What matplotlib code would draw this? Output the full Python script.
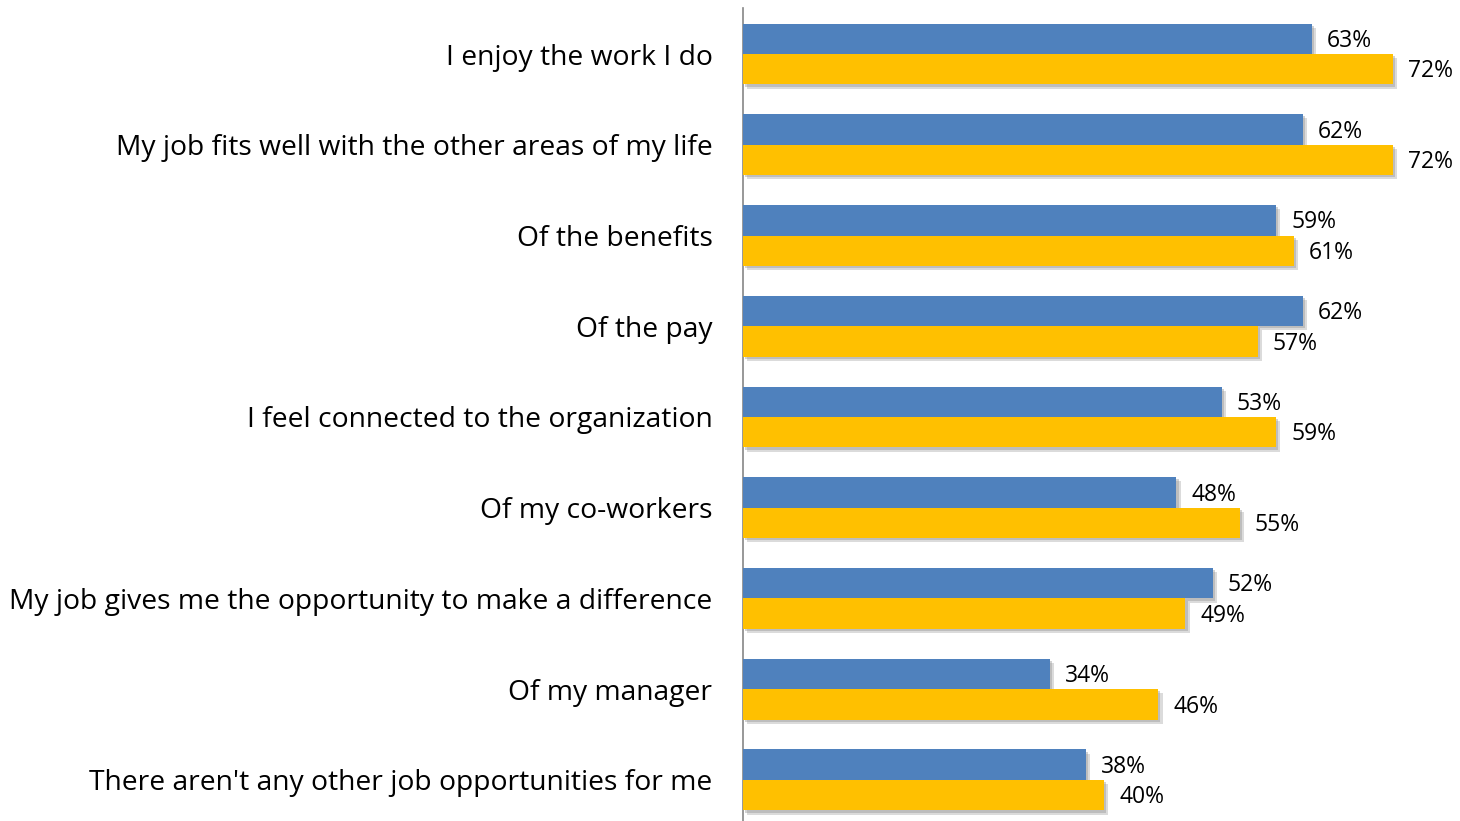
import matplotlib.pyplot as plt
import matplotlib.patheffects as pe
import numpy as np

categories = [
    "I enjoy the work I do",
    "My job fits well with the other areas of my life",
    "Of the benefits",
    "Of the pay",
    "I feel connected to the organization",
    "Of my co-workers",
    "My job gives me the opportunity to make a difference",
    "Of my manager",
    "There aren't any other job opportunities for me",
]
blue_vals = [63, 62, 59, 62, 53, 48, 52, 34, 38]
yellow_vals = [72, 72, 61, 57, 59, 55, 49, 46, 40]

plt.rcParams['font.family'] = ['Open Sans', 'DejaVu Sans']

fig = plt.figure(figsize=(14.6, 8.21), dpi=100)
ax = fig.add_axes([743 / 1460, 0.0, 1 - 743 / 1460, 1 - 8 / 821])

y = np.arange(len(categories))
h = 0.336
# soft drop shadow under each bar
shadow = [pe.SimplePatchShadow(offset=(3, -3), shadow_rgbFace='#b0b0b0', alpha=0.45),
          pe.SimplePatchShadow(offset=(1.5, -1.5), shadow_rgbFace='#909090', alpha=0.4),
          pe.Normal()]

bars_b = ax.barh(y - h / 2, blue_vals, height=h, color='#4F81BD', zorder=3)
bars_y = ax.barh(y + h / 2, yellow_vals, height=h, color='#FFC000', zorder=3)
for b in list(bars_b) + list(bars_y):
    b.set_path_effects(shadow)

for i in range(len(categories)):
    ax.annotate(f"{blue_vals[i]}%", (blue_vals[i], y[i] - h / 2), xytext=(11, -1.5),
                textcoords='offset points', va='center', ha='left', fontsize=16.5)
    ax.annotate(f"{yellow_vals[i]}%", (yellow_vals[i], y[i] + h / 2), xytext=(11, -1.5),
                textcoords='offset points', va='center', ha='left', fontsize=16.5)

ax.set_xlim(0, 717 / 9.03)
ax.set_ylim(8.452, -0.507)
ax.set_yticks(y)
ax.set_yticklabels(categories, fontsize=20.3)
ax.tick_params(axis='y', length=0, pad=22)
ax.set_xticks([])
for s in ['top', 'right', 'bottom']:
    ax.spines[s].set_visible(False)
ax.spines['left'].set_color('#868686')
ax.spines['left'].set_linewidth(1.2)

fig.savefig('out.png', dpi=100)
